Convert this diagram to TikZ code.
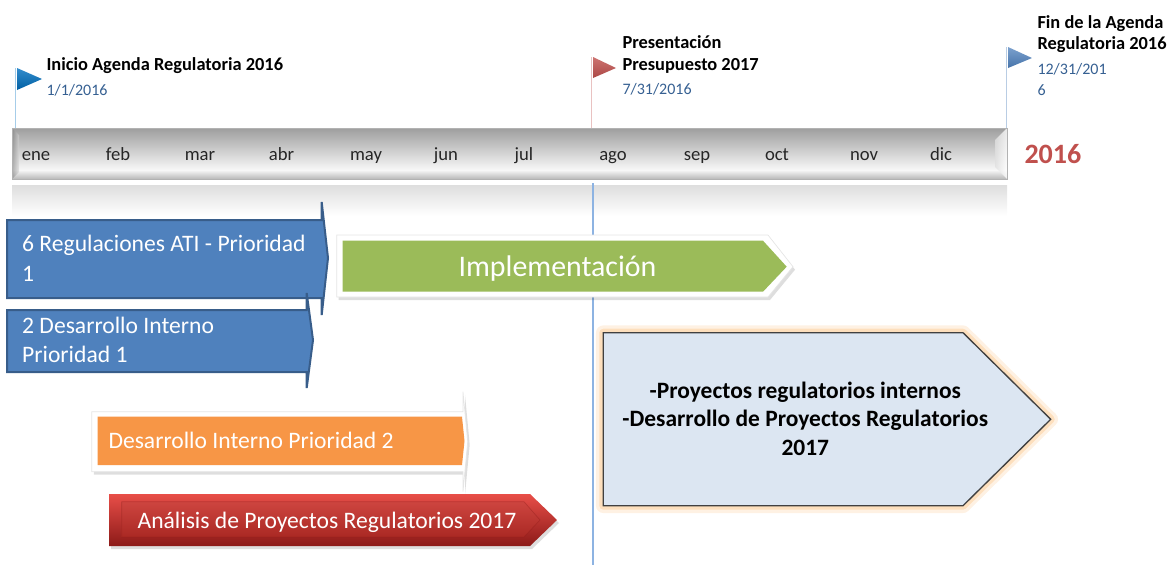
\documentclass[tikz,border=0pt]{standalone}
\usepackage{fontspec}
\setmainfont{Carlito}
\definecolor{boxblue}{RGB}{79,129,189}
\definecolor{boxblueline}{RGB}{56,93,138}
\definecolor{implgreen}{RGB}{155,187,89}
\definecolor{devorange}{RGB}{247,150,70}
\definecolor{anaredtop}{RGB}{232,78,72}
\definecolor{anaredmid}{RGB}{200,48,42}
\definecolor{anareddark}{RGB}{140,26,24}
\definecolor{projfill}{RGB}{220,230,242}
\definecolor{projglow}{RGB}{250,180,100}
\definecolor{datetext}{RGB}{54,96,146}
\definecolor{yearred}{RGB}{192,80,77}
\definecolor{todayline}{RGB}{141,179,226}
\definecolor{startflag}{RGB}{0,112,192}
\definecolor{endflag}{RGB}{79,129,189}
\definecolor{presflag}{RGB}{192,80,77}

\tikzset{every picture/.style={line width=0.75pt}}
\tikzset{
  month/.style={anchor=base, inner sep=0pt, font=\fontsize{14}{16}\selectfont, text=black!85},
  flagtitle/.style={anchor=base west, inner sep=0pt, font=\fontsize{13.8}{16}\selectfont\bfseries},
  flagdate/.style={anchor=base west, inner sep=0pt, font=\fontsize{12}{14}\selectfont, text=datetext},
  boxtext/.style={anchor=base west, inner sep=0pt, font=\fontsize{17.7}{21}\selectfont, text=white},
  projtext/.style={anchor=base, inner sep=0pt, font=\fontsize{17.6}{21}\selectfont\bfseries},
  boxshadow/.style={fill=black, opacity=0.13},
}

\begin{document}
\begin{tikzpicture}[x=0.75pt,y=0.75pt,yscale=-1,xscale=1]
\useasboundingbox (0,0) rectangle (1168,565);
%Shape: Rectangle [timeline bar]
\shade [top color=black!38, bottom color=white!97!black] (12,128) rectangle (1007,170) ;
\shade [top color=white!97!black, bottom color=black!28] (12,170) rectangle (1007,179) ;
\shade [left color=black!50, right color=black!15, opacity=0.6] (12,128) -- (19,135) -- (19,172) -- (12,179) -- cycle ;
\shade [left color=black!12, right color=white, opacity=0.8] (995,140) -- (1007,128) -- (1007,179) -- (995,167) -- cycle ;
\draw [black!30, line width=0.5pt] (12,128) rectangle (1007,179) ;
%Shape: Rectangle [reflection]
\shade [top color=black!13, bottom color=white] (12,185) rectangle (1007,216) ;
%Straight Lines [today]
\draw [todayline, line width=1.2pt] (593,183) -- (593,565) ;
%Straight Lines [poles]
\draw [startflag!35] (15.7,68) -- (15.7,128) ;
\draw [presflag!35] (591.7,57) -- (591.7,128) ;
\draw [endflag!40] (1006.7,47) -- (1006.7,128) ;
%Shape: Triangle [flags]
\shade [top color=startflag!80!white, bottom color=startflag!85!black] (17,68) -- (42,79) -- (17,90) -- cycle ;
\shade [top color=presflag!80!white, bottom color=presflag!90!black] (593,57) -- (616,68) -- (593,78) -- cycle ;
\shade [top color=endflag!75!white, bottom color=endflag!90!black] (1008,47) -- (1032,58) -- (1008,68) -- cycle ;

%Shape: Arrow [blue 1]
\draw [boxblueline, fill=boxblue, line width=1.5pt] (7,220) -- (321.7,220) -- (321.7,202) -- (328,258) -- (321.7,315) -- (321.7,298) -- (7,298) -- cycle ;
%Shape: Arrow [blue 2]
\draw [boxblueline, fill=boxblue, line width=1.5pt] (7,310) -- (306.7,310) -- (306.7,293) -- (313,340) -- (306.7,388) -- (306.7,372) -- (7,372) -- cycle ;

%Shape: Arrow [green]
\fill [boxshadow] (338.7,238) -- (770,238) -- (795,269.7) -- (770,300) -- (338.7,300) -- cycle ;
\draw [black!10, fill=white, line width=0.5pt] (336.7,235) -- (768,235) -- (793,266.7) -- (768,297) -- (336.7,297) -- cycle ;
\fill [implgreen] (342.7,240.7) -- (763,240.7) -- (786.7,266.7) -- (763,291.7) -- (342.7,291.7) -- cycle ;

%Shape: Arrow [orange]
\fill [boxshadow] (93.8,414.7) -- (465,414.7) -- (465,394.7) -- (469.7,444.7) -- (465,494.7) -- (465,474.7) -- (93.8,474.7) -- cycle ;
\draw [black!10, fill=white, line width=0.5pt] (91.8,411.7) -- (463,411.7) -- (463,391.7) -- (467.7,441.7) -- (463,491.7) -- (463,471.7) -- (91.8,471.7) -- cycle ;
\fill [devorange] (97.6,416.7) -- (462,416.7) -- (464.5,441) -- (462,465) -- (97.6,465) -- cycle ;

%Shape: Arrow [red]
\fill [boxshadow] (111,497) -- (532,497) -- (559,523) -- (532,549) -- (111,549) -- cycle ;
\shade [top color=anaredtop, bottom color=anareddark] (109,494) -- (530,494) -- (557,520) -- (530,546) -- (109,546) -- cycle ;
\shade [top color=anaredmid!90!white, bottom color=anaredmid!85!black] (121.7,501.7) -- (524,501.7) -- (540,520) -- (524,537) -- (121.7,537) -- cycle ;
\draw [anareddark, opacity=0.35, line width=0.5pt] (121.7,501.7) -- (524,501.7) -- (540,520) -- (524,537) -- (121.7,537) -- cycle ;

%Shape: Pentagon [projects]
\draw [projglow, opacity=0.18, line width=11pt, line join=round] (603.3,332.7) -- (963,332.7) -- (1050.7,419.3) -- (963,505.7) -- (603.3,505.7) -- cycle ;
\draw [projglow, opacity=0.3, line width=6pt, line join=round] (603.3,332.7) -- (963,332.7) -- (1050.7,419.3) -- (963,505.7) -- (603.3,505.7) -- cycle ;
\draw [black!75, fill=projfill, line width=1pt] (603.3,332.7) -- (963,332.7) -- (1050.7,419.3) -- (963,505.7) -- (603.3,505.7) -- cycle ;

% Text Node
\draw (46,70) node (iniT) [flagtitle] {Inicio Agenda Regulatoria 2016};
% Text Node
\draw (46,95) node (iniD) [flagdate] {1/1/2016};
% Text Node
\draw (622,48) node (preT1) [flagtitle] {Presentación};
% Text Node
\draw (622,70) node (preT2) [flagtitle] {Presupuesto 2017};
% Text Node
\draw (622,94) node (preD) [flagdate] {7/31/2016};
% Text Node
\draw (1037,28) node (finT1) [flagtitle] {Fin de la Agenda};
% Text Node
\draw (1037,49) node (finT2) [flagtitle] {Regulatoria 2016};
% Text Node
\draw (1037,74) node (finD1) [flagdate] {12/31/201};
% Text Node
\draw (1037,95) node (finD2) [flagdate] {6};
% Text Node
\draw (36,160.7) node (ene) [month] {ene};
\draw (118,160.7) node (feb) [month] {feb};
\draw (200,160.7) node (mar) [month] {mar};
\draw (281.5,160.7) node (abr) [month] {abr};
\draw (366,160.7) node (may) [month] {may};
\draw (446,160.7) node (jun) [month] {jun};
\draw (524,160.7) node (jul) [month] {jul};
\draw (613,160.7) node (ago) [month] {ago};
\draw (697,160.7) node (sep) [month] {sep};
\draw (777,160.7) node (oct) [month] {oct};
\draw (864,160.7) node (nov) [month] {nov};
\draw (941,160.7) node (dic) [month] {dic};
% Text Node
\draw (1024,163) node (year) [anchor=base west, inner sep=0pt, font=\fontsize{21}{24}\selectfont\bfseries, text=yearred] {2016};
% Text Node
\draw (21.7,251.7) node (atiA) [boxtext] {6 Regulaciones ATI - Prioridad};
\draw (21.7,281) node (atiB) [boxtext] {1};
% Text Node
\draw (21.7,333) node (intA) [boxtext] {2 Desarrollo Interno};
\draw (21.7,362) node (intB) [boxtext] {Prioridad 1};
% Text Node
\draw (557.5,276.7) node (impl) [anchor=base, inner sep=0pt, font=\fontsize{22.4}{26}\selectfont, text=white] {Implementación};
% Text Node
\draw (108,448) node (dev2) [boxtext] {Desarrollo Interno Prioridad 2};
% Text Node
\draw (327,528) node (ana) [boxtext, anchor=base] {Análisis de Proyectos Regulatorios 2017};
% Text Node
\draw (805.3,398) node (projA) [projtext] {-Proyectos regulatorios internos};
\draw (805.3,426.7) node (projB) [projtext] {-Desarrollo de Proyectos Regulatorios};
\draw (805.3,455) node (projC) [projtext] {2017};
\end{tikzpicture}
\end{document}
